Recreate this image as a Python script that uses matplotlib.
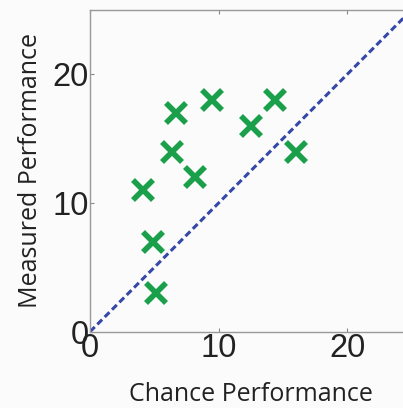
import numpy as np
import matplotlib
matplotlib.use("Agg")
import matplotlib.pyplot as plt

# chance vs measured performance
chance = [4.1, 4.9, 5.1, 6.4, 6.7, 8.2, 9.5, 12.5, 14.4, 16.0]
measured = [11, 7, 3, 14, 17, 12, 18, 16, 18, 14]
ticks = [0, 10, 20]

fig = plt.figure(figsize=(4.03, 4.08), dpi=100)
fig.patch.set_facecolor('#fbfbfb')
# axes runs a bit past the right edge of the figure, like the reference
ax = fig.add_axes([90 / 403, (408 - 331.7) / 408, 321.5 / 403, 321.7 / 408])
ax.set_facecolor('#fbfbfb')

ax.plot([0, 25], [0, 25], linestyle=(0, (2.2, 1.2)), color='#3548a8', lw=2.2, clip_on=True)
ax.plot(chance, measured, linestyle='none', marker='x', markersize=14,
        markeredgewidth=4, color='#1aa04a')

ax.set_xlim(0, 25)
ax.set_ylim(0, 25)
ax.set_xticks(ticks)
ax.set_yticks(ticks)
ax.tick_params(direction='in', length=3, width=0.8, color='#888888',
               top=True, right=True, labelsize=23.5, labelcolor='#222222', pad=1)
for lab in ax.get_xticklabels() + ax.get_yticklabels():
    lab.set_family('Liberation Sans')
for s in ax.spines.values():
    s.set_color('#999999')
    s.set_linewidth(1)

ax.set_xlabel('Chance Performance', fontsize=18, family='Open Sans', color='#222222', labelpad=13)
ax.set_ylabel('Measured Performance', fontsize=18, family='Open Sans', color='#222222', labelpad=7)

fig.savefig('out.png', dpi=100, facecolor=fig.get_facecolor())
